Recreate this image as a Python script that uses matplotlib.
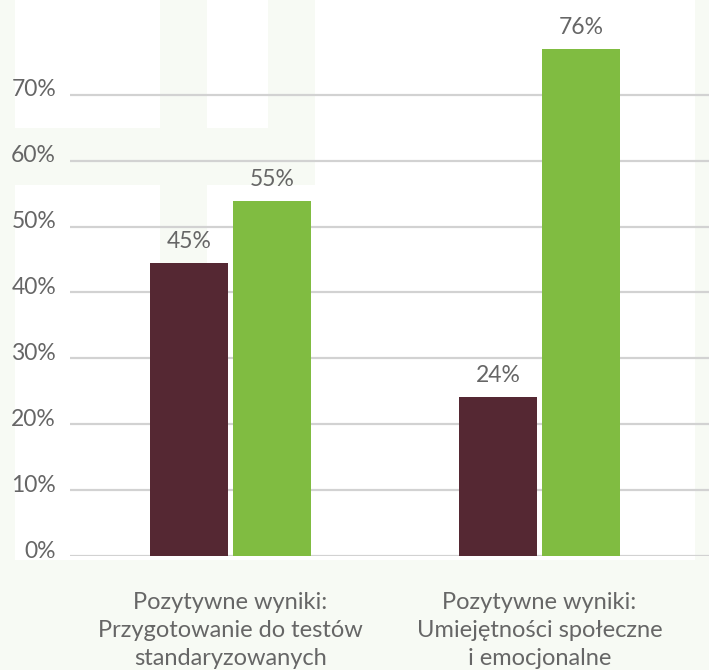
import numpy as np
import matplotlib
matplotlib.use("Agg")
import matplotlib.pyplot as plt
import matplotlib.transforms as mtransforms
from matplotlib.patches import Rectangle

# Chart data
categories = [
    "Pozytywne wyniki:\nPrzygotowanie do testów\nstandaryzowanych",
    "Pozytywne wyniki:\nUmiejętności społeczne\ni emocjonalne",
]
# bar heights as drawn in the picture, labels as printed
series_a = [44.5, 24.1]
series_b = [53.9, 76.9]
labels_a = ["45%", "24%"]
labels_b = ["55%", "76%"]
yticks = [0, 10, 20, 30, 40, 50, 60, 70]

color_a = "#552833"
color_b = "#80BC41"
text_color = "#666666"
grid_color = "#d2d2d2"

plt.rcParams["font.family"] = ["Lato", "DejaVu Sans"]

fig = plt.figure(figsize=(7.09, 6.70), dpi=100)
fig.patch.set_facecolor("white")

# faint background pattern (pixel coords, y from top)
W, H = 709, 670
pale = "#f7faf4"
for x0, y0, w, h in [(0, 0, 15, 670), (160, 0, 47, 556), (268, 0, 47, 185),
                     (0, 128, 315, 57), (0, 560, 709, 110), (695, 0, 14, 670)]:
    fig.patches.append(Rectangle((x0 / W, 1 - (y0 + h) / H), w / W, h / H,
                                 transform=fig.transFigure, facecolor=pale,
                                 edgecolor="none", zorder=-5))

ax = fig.add_axes([70 / W, 1 - 556 / H, 639 / W, 556 / H])
ax.set_facecolor("none")

x = np.arange(len(categories))
width = 0.252
offset = 0.134

bars_a = ax.bar(x - offset, series_a, width, color=color_a, zorder=3)
bars_b = ax.bar(x + offset, series_b, width, color=color_b, zorder=3)

for bars, labs in [(bars_a, labels_a), (bars_b, labels_b)]:
    for b, lab in zip(bars, labs):
        ax.annotate(lab, (b.get_x() + b.get_width() / 2, b.get_height()),
                    xytext=(0, 8), textcoords="offset points",
                    ha="center", va="bottom", fontsize=16.5, color=text_color)

ax.set_xlim(-0.519, 1.549)
ax.set_ylim(0, 84.4)

ax.set_yticks(yticks)
ax.set_yticklabels([f"{t}%" for t in yticks])
ax.yaxis.grid(True, color=grid_color, linewidth=1.6, zorder=1)
ax.tick_params(axis="y", length=0, pad=10, labelsize=16.5, labelcolor=text_color)
shift = mtransforms.ScaledTranslation(0, 7 / 100, fig.dpi_scale_trans)
for lbl in ax.get_yticklabels():
    lbl.set_transform(lbl.get_transform() + shift)

ax.set_xticks(x)
ax.set_xticklabels(categories, linespacing=1.42)
ax.tick_params(axis="x", length=0, pad=26, labelsize=17, labelcolor=text_color)

for s in ax.spines.values():
    s.set_visible(False)

fig.savefig("out.png", dpi=100, facecolor=fig.get_facecolor())
